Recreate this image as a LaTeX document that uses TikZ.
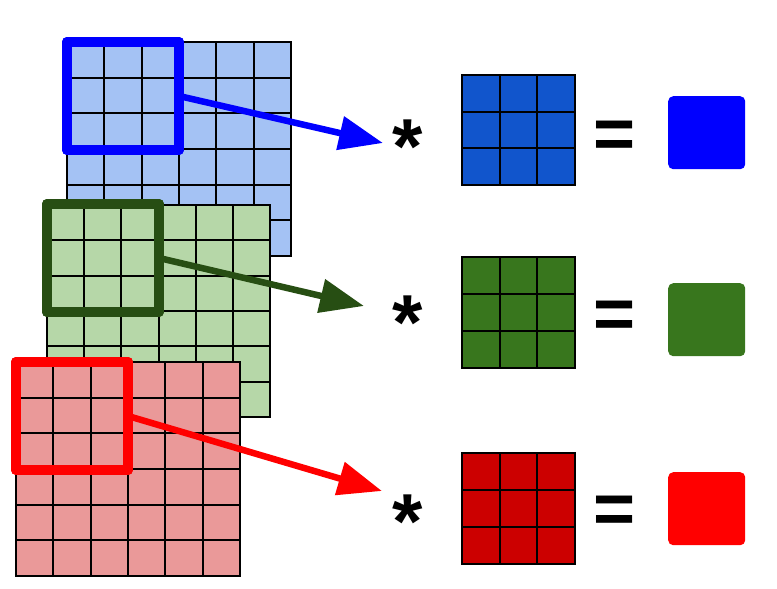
\documentclass[tikz,border=0pt]{standalone}
\usepackage{fontspec}
\setmainfont{Liberation Sans}
\usetikzlibrary{arrows.meta,calc}
\definecolor{bgblue}{HTML}{A4C2F4}
\definecolor{bggreen}{HTML}{B6D7A8}
\definecolor{bgred}{HTML}{EA9999}
\definecolor{kblue}{HTML}{1155CC}
\definecolor{kgreen}{HTML}{38761D}
\definecolor{kred}{HTML}{CC0000}
\definecolor{wblue}{HTML}{0000FF}
\definecolor{wgreen}{HTML}{274E13}
\definecolor{wred}{HTML}{FF0000}
\tikzset{
  gridline/.style={line width=2pt, draw=black},
  gridbox/.style={draw=black, line width=2pt, inner sep=0pt, outer sep=0pt, anchor=north west, minimum width=#1},
  window/.style={draw=#1, line width=10pt, line join=round, inner sep=0pt, outer sep=0pt, anchor=north west, minimum width=112pt, minimum height=108pt},
  slide/.style={draw=#1, line width=6.5pt, -{Triangle[length=44pt,width=33pt]}},
  outbox/.style={fill=#1, rounded corners=5pt, inner sep=0pt, anchor=north west, minimum width=77pt, minimum height=73pt},
  startxt/.style={inner sep=0pt, anchor=base, font=\fontsize{78}{80}\selectfont\bfseries},
  eqtxt/.style={inner sep=0pt, anchor=base, font=\fontsize{72}{80}\selectfont\bfseries},
}
\newcommand\cellsof[3]{%
  \foreach \k in {1,...,#3}{
    \draw[gridline] ($(#1.north west)!{\k/#2}!(#1.north east)$) -- ($(#1.south west)!{\k/#2}!(#1.south east)$);
    \draw[gridline] ($(#1.north west)!{\k/#2}!(#1.south west)$) -- ($(#1.north east)!{\k/#2}!(#1.south east)$);
  }%
}
\begin{document}
\begin{tikzpicture}[x=1pt,y=-1pt]
\useasboundingbox (0,0) rectangle (777,589);
% blue input
\node[gridbox=224pt, minimum height=214pt, fill=bgblue] (bgrid) at (67,42) {};
\cellsof{bgrid}{6}{5}
\coordinate (btip) at (383,143);
\node[window=wblue] (bwin) at (67,42) {};
\draw[slide=wblue] (bwin.east) -- (btip);
\node[window=wblue] at (67,42) {};
% green input
\node[gridbox=223pt, minimum height=212pt, fill=bggreen] (ggrid) at (47,205) {};
\cellsof{ggrid}{6}{5}
\coordinate (gtip) at (364,306);
\node[window=wgreen] (gwin) at (47,204) {};
\draw[slide=wgreen] (gwin.east) -- (gtip);
\node[window=wgreen] at (47,204) {};
% red input
\node[gridbox=224pt, minimum height=214pt, fill=bgred] (rgrid) at (16,362) {};
\cellsof{rgrid}{6}{5}
\coordinate (rtip) at (382,491);
\node[window=wred] (rwin) at (16,362) {};
\draw[slide=wred] (rwin.east) -- (rtip);
\node[window=wred] at (16,362) {};
% kernels
\node[gridbox=113pt, minimum height=110pt, fill=kblue] (bker) at (462,75) {};
\cellsof{bker}{3}{2}
\node[gridbox=113pt, minimum height=111pt, fill=kgreen] (gker) at (462,257) {};
\cellsof{gker}{3}{2}
\node[gridbox=113pt, minimum height=111pt, fill=kred] (rker) at (462,453) {};
\cellsof{rker}{3}{2}
% operators
\node[startxt] (bstar) at (408,173) {*};
\node[startxt] (gstar) at (408,349) {*};
\node[startxt] (rstar) at (408,548) {*};
\node[eqtxt] (beq) at (615,158) {=};
\node[eqtxt] (geq) at (615,338) {=};
\node[eqtxt] (req) at (615,533) {=};
% outputs
\node[outbox=wblue] (bout) at (668,96) {};
\node[outbox=kgreen] (gout) at (668,283) {};
\node[outbox=wred] (rout) at (668,472) {};
\end{tikzpicture}
\end{document}
